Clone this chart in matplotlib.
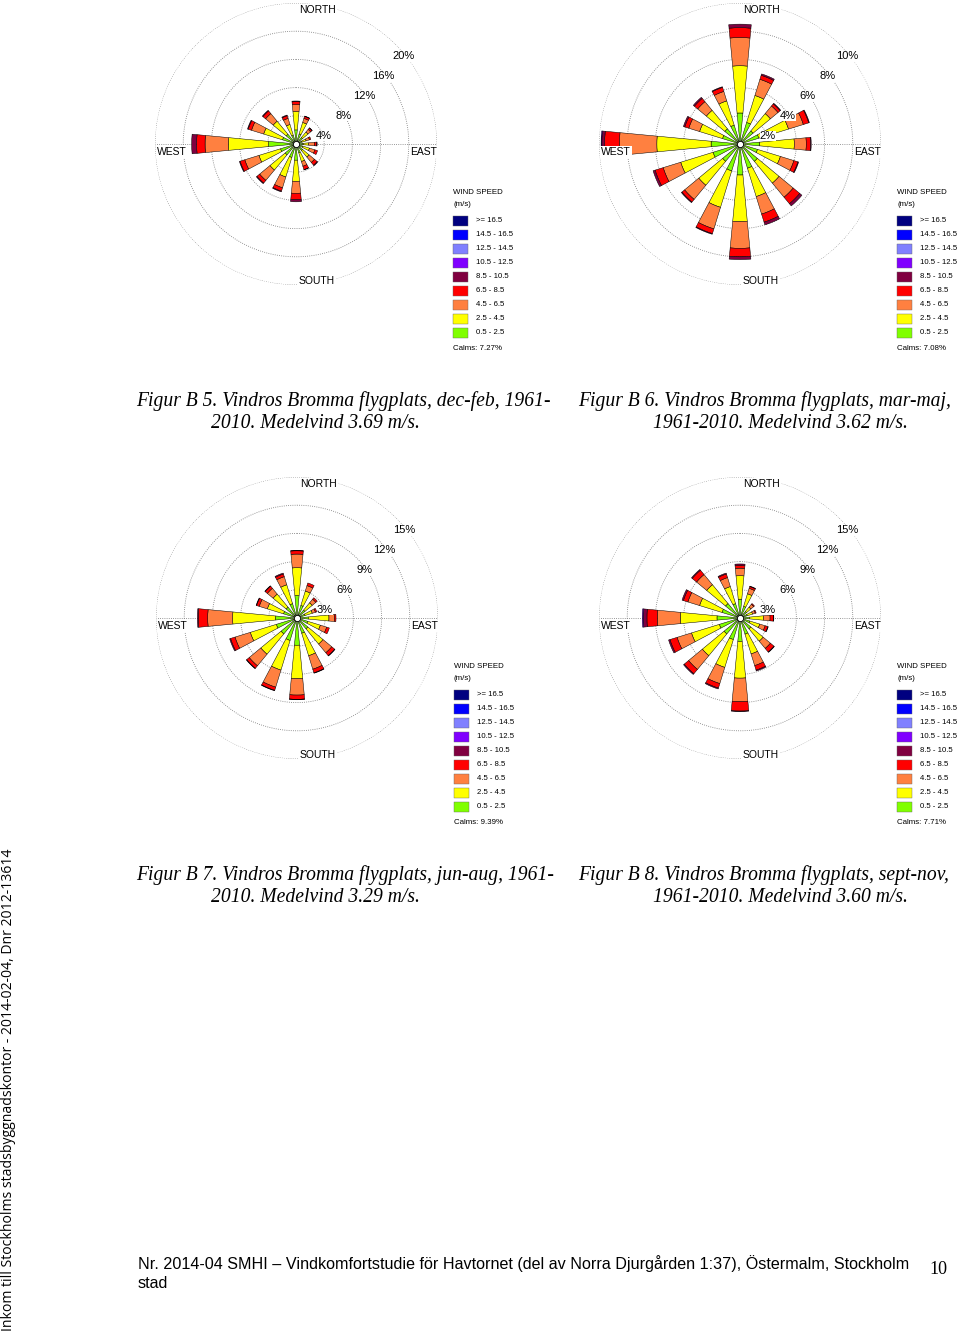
import numpy as np
import matplotlib
matplotlib.use("Agg")
import matplotlib.pyplot as plt
from matplotlib.patches import Rectangle

# wind directions, clockwise from north
directions = ["N", "NNE", "NE", "ENE", "E", "ESE", "SE", "SSE",
              "S", "SSW", "SW", "WSW", "W", "WNW", "NW", "NNW"]

# speed classes drawn in the roses (inner -> outer)
class_colors = ["#80ff00", "#ffff00", "#ff8040", "#ff0000", "#800040", "#8000ff"]

# legend (top -> bottom)
legend_labels = [">= 16.5", "14.5 - 16.5", "12.5 - 14.5", "10.5 - 12.5", "8.5 - 10.5",
                 "6.5 - 8.5", "4.5 - 6.5", "2.5 - 4.5", "0.5 - 2.5"]
legend_colors = ["#000080", "#0000ff", "#8080ff", "#8000ff", "#800040",
                 "#ff0000", "#ff8040", "#ffff00", "#80ff00"]

# frequency (%) per speed class and direction
dec_feb = [
    [2.0, 1.5, 1.2, 0.9, 1.0, 1.0, 1.2, 1.3, 2.3, 2.0, 2.0, 2.3, 3.9, 2.0, 1.8, 1.3],
    [2.6, 1.7, 1.0, 0.6, 0.8, 1.0, 1.2, 1.3, 3.0, 2.9, 2.8, 3.2, 5.7, 2.8, 2.4, 1.6],
    [1.0, 0.6, 0.5, 0.5, 0.8, 0.8, 1.0, 0.7, 1.7, 1.6, 1.9, 2.1, 3.3, 1.8, 1.4, 0.9],
    [0.4, 0.3, 0.25, 0.2, 0.35, 0.4, 0.5, 0.5, 0.9, 0.5, 0.5, 0.7, 1.2, 0.5, 0.5, 0.4],
    [0.1, 0.05, 0.05, 0.0, 0.05, 0.0, 0.1, 0.05, 0.3, 0.1, 0.1, 0.1, 0.7, 0.1, 0.1, 0.1],
    [0.0, 0.0, 0.0, 0.0, 0.0, 0.0, 0.0, 0.0, 0.0, 0.0, 0.0, 0.0, 0.0, 0.0, 0.0, 0.0],
]
mar_maj = [
    [2.2, 1.6, 1.2, 1.4, 1.4, 1.3, 1.6, 1.8, 2.2, 2.0, 1.6, 2.0, 2.05, 1.3, 1.4, 1.4],
    [3.35, 2.0, 1.6, 2.2, 2.45, 1.7, 2.0, 2.1, 3.3, 2.7, 2.2, 2.4, 3.85, 1.7, 1.7, 1.8],
    [2.0, 1.2, 0.7, 1.1, 0.85, 1.0, 1.3, 1.3, 1.9, 1.6, 1.3, 1.3, 2.65, 0.8, 0.8, 0.7],
    [0.7, 0.3, 0.2, 0.4, 0.3, 0.3, 0.6, 0.6, 0.6, 0.35, 0.25, 0.6, 1.05, 0.3, 0.3, 0.3],
    [0.25, 0.1, 0.05, 0.05, 0.05, 0.05, 0.2, 0.2, 0.2, 0.05, 0.05, 0.15, 0.2, 0.1, 0.1, 0.05],
    [0.0, 0.0, 0.0, 0.0, 0.0, 0.0, 0.0, 0.0, 0.0, 0.0, 0.0, 0.0, 0.05, 0.0, 0.0, 0.0],
]
jun_aug = [
    [2.4, 1.4, 1.1, 0.9, 1.2, 1.2, 1.5, 1.7, 2.9, 2.5, 2.2, 2.3, 2.3, 1.5, 1.5, 1.6],
    [2.95, 1.6, 1.0, 0.8, 2.2, 1.4, 2.1, 2.5, 3.55, 3.3, 2.8, 2.9, 4.55, 1.8, 1.8, 2.1],
    [1.45, 0.6, 0.5, 0.35, 0.6, 0.7, 1.2, 1.5, 1.75, 1.9, 1.6, 1.7, 2.65, 0.9, 0.8, 0.9],
    [0.35, 0.3, 0.2, 0.15, 0.15, 0.3, 0.4, 0.4, 0.45, 0.35, 0.35, 0.5, 1.0, 0.3, 0.3, 0.3],
    [0.05, 0.0, 0.0, 0.0, 0.0, 0.0, 0.05, 0.05, 0.05, 0.05, 0.05, 0.1, 0.1, 0.05, 0.05, 0.1],
    [0.0, 0.0, 0.0, 0.0, 0.0, 0.0, 0.0, 0.0, 0.0, 0.0, 0.0, 0.0, 0.0, 0.0, 0.0, 0.0],
]
sep_nov = [
    [2.0, 1.3, 0.9, 0.8, 1.0, 1.1, 1.5, 1.8, 2.5, 2.4, 2.2, 2.3, 2.45, 2.0, 2.0, 1.6],
    [2.5, 1.4, 0.6, 0.6, 1.5, 1.1, 1.7, 2.2, 3.9, 3.1, 3.0, 3.1, 3.9, 2.5, 2.6, 1.9],
    [0.8, 0.6, 0.4, 0.3, 0.7, 0.6, 1.0, 1.3, 2.5, 1.8, 1.9, 1.6, 2.45, 1.3, 1.4, 1.0],
    [0.3, 0.2, 0.1, 0.1, 0.35, 0.3, 0.5, 0.5, 1.0, 0.5, 0.6, 0.8, 1.1, 0.5, 0.6, 0.4],
    [0.15, 0.05, 0.0, 0.0, 0.05, 0.05, 0.05, 0.1, 0.05, 0.1, 0.1, 0.15, 0.4, 0.15, 0.1, 0.1],
    [0.0, 0.0, 0.0, 0.0, 0.0, 0.0, 0.0, 0.0, 0.0, 0.0, 0.0, 0.0, 0.1, 0.0, 0.0, 0.0],
]

roses = [dec_feb, mar_maj, jun_aug, sep_nov]
ring_step = [4, 2, 3, 3]
calms = ["7.27%", "7.08%", "9.39%", "7.71%"]
caption_1 = ["Figur B 5. Vindros Bromma flygplats, dec-feb, 1961-",
             "Figur B 6. Vindros Bromma flygplats, mar-maj,",
             "Figur B 7. Vindros Bromma flygplats, jun-aug, 1961-",
             "Figur B 8. Vindros Bromma flygplats, sept-nov,"]
caption_2 = ["2010. Medelvind 3.69 m/s.",
             "1961-2010. Medelvind 3.62 m/s.",
             "2010. Medelvind 3.29 m/s.",
             "1961-2010. Medelvind 3.60 m/s."]

W, H = 960, 1334
centers = [(296, 144), (740, 144), (297, 618), (740, 618)]
R = 141  # outer ring radius in pixels
sans = "Liberation Sans"

fig = plt.figure(figsize=(W / 100, H / 100), dpi=100)
fig.patch.set_facecolor("white")

theta = np.deg2rad(np.arange(len(directions)) * 22.5)
ring_t = np.linspace(0, 2 * np.pi, 400)

for data, step, (cx, cy) in zip(roses, ring_step, centers):
    ax = fig.add_axes([(cx - R) / W, (H - cy - R) / H, 2 * R / W, 2 * R / H],
                      projection="polar")
    ax.set_theta_zero_location("N")
    ax.set_theta_direction(-1)
    rmax = 5 * step
    ax.set_ylim(0, rmax)
    ax.axis("off")

    # dotted rings + west-east line
    for k in range(1, 6):
        ax.plot(ring_t, np.full_like(ring_t, k * step), color="#777777",
                lw=0.6, ls=(0, (1, 1.6)), zorder=1)
    for a in (np.pi / 2, 3 * np.pi / 2):
        ax.plot([a, a], [0, rmax], color="#777777", lw=0.6, ls=(0, (1, 1.6)), zorder=1)

    bottom = np.zeros(len(directions))
    for vals, col in zip(data, class_colors):
        vals = np.asarray(vals, dtype=float)
        m = vals > 0
        ax.bar(theta[m], vals[m], width=np.deg2rad(10.8), bottom=bottom[m],
               color=col, edgecolor="black", linewidth=0.35, zorder=3)
        bottom += vals
    ax.scatter([0], [0], s=20, facecolor="white", edgecolor="black",
               linewidth=0.6, zorder=6)

    for k in range(1, 6):
        ax.annotate(f"{k * step}%", xy=(np.pi / 4, k * step), xytext=(8, -12),
                    textcoords="offset pixels", ha="center", va="center",
                    fontsize=8, family=sans, zorder=7,
                    bbox=dict(fc="white", ec="none", pad=0.2))

    lab = dict(textcoords="offset pixels", fontsize=7.5, family=sans, zorder=8,
               bbox=dict(fc="white", ec="none", pad=0.6))
    ax.annotate("NORTH", xy=(0, rmax), xytext=(3, -7), ha="left", va="center", **lab)
    ax.annotate("SOUTH", xy=(np.pi, rmax), xytext=(3, 4), ha="left", va="center", **lab)
    ax.annotate("WEST", xy=(3 * np.pi / 2, rmax), xytext=(2, -8), ha="left", va="center", **lab)
    ax.annotate("EAST", xy=(np.pi / 2, rmax), xytext=(0, -8), ha="right", va="center", **lab)

# page overlay in pixel coordinates
page = fig.add_axes([0, 0, 1, 1])
page.set_xlim(0, W)
page.set_ylim(H, 0)
page.axis("off")

for i, (cx, cy) in enumerate(centers):
    lx = cx + 157
    page.text(lx, cy + 48, "WIND SPEED", fontsize=5.7, family=sans, va="center")
    page.text(lx, cy + 60, "(m/s)", fontsize=5.7, family=sans, va="center")
    for j, (txt, col) in enumerate(zip(legend_labels, legend_colors)):
        yc = cy + 77 + 14 * j
        page.add_patch(Rectangle((lx, yc - 5), 15, 10, facecolor=col,
                                 edgecolor="#666666", linewidth=0.3))
        page.text(lx + 23, yc, txt, fontsize=5.6, family=sans, va="center")
    page.text(lx, cy + 204, "Calms: " + calms[i], fontsize=5.7, family=sans, va="center")

    left = 136 if cx < 500 else 578
    page.text(left, cy + 257, caption_1[i], fontsize=14.1, family="Liberation Serif",
              style="italic", va="center")
    page.text(left + 75, cy + 280, caption_2[i], fontsize=14.1, family="Liberation Serif",
              style="italic", va="center")

page.text(138, 1264, "Nr. 2014-04 SMHI \u2013 Vindkomfortstudie f\u00f6r Havtornet (del av Norra "
          "Djurg\u00e5rden 1:37), \u00d6stermalm, Stockholm", fontsize=11.6, family=sans, va="center")
page.text(138, 1283, "stad", fontsize=11.6, family=sans, va="center")
page.text(938, 1270, "10", fontsize=13, family="Liberation Serif", ha="center", va="center")
page.text(9, 1331, "Inkom till Stockholms stadsbyggnadskontor - 2014-02-04, Dnr 2012-13614",
          fontsize=10.1, family="Open Sans", rotation=90, ha="center", va="bottom")

fig.savefig("out.png", dpi=100)
